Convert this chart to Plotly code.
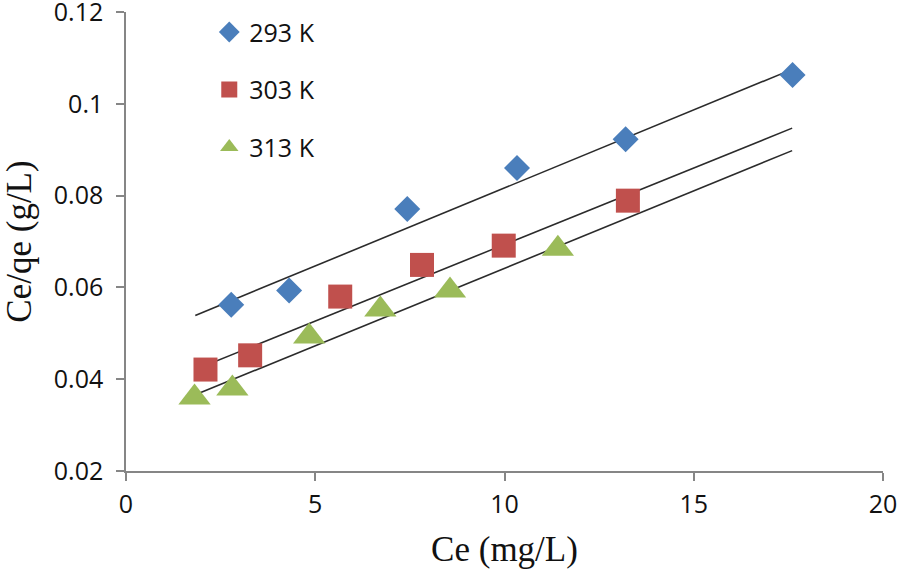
import plotly.graph_objects as go

# ---- data ----
ce_293 = [2.78, 4.31, 7.43, 10.33, 13.2, 17.61]
cq_293 = [0.0562, 0.0593, 0.0771, 0.0860, 0.0923, 0.1063]

ce_303 = [2.10, 3.28, 5.66, 7.82, 9.98, 13.26]
cq_303 = [0.0421, 0.0452, 0.0580, 0.0649, 0.0691, 0.0789]

ce_313 = [1.81, 2.81, 4.84, 6.72, 8.56, 11.41]
cq_313 = [0.0360, 0.0380, 0.0493, 0.0552, 0.0593, 0.0684]

# trend line end points
fit_x = [1.83, 17.6]
fit_293 = [0.0539, 0.1075]
fit_303 = [0.0421, 0.0947]
fit_313 = [0.0366, 0.0898]

series_names = ["293 K", "303 K", "313 K"]
x_ticks = [0, 5, 10, 15, 20]
y_ticks = [0.02, 0.04, 0.06, 0.08, 0.1, 0.12]
y_tick_text = ["0.02", "0.04", "0.06", "0.08", "0.1", "0.12"]

TICK_FONT = dict(family="Open Sans", size=25, color="#111111")
TITLE_FONT = dict(family="Liberation Serif", size=35, color="#111111")
AXIS_GRAY = "#868686"

fig = go.Figure()

for fy in (fit_293, fit_303, fit_313):
    fig.add_trace(go.Scatter(
        x=fit_x, y=fy, mode="lines",
        line=dict(color="#2b2b2b", width=1.6),
        showlegend=False, hoverinfo="skip"))

markers = [
    (ce_293, cq_293, "diamond", 20, "#4A7EBB"),
    (ce_303, cq_303, "square", 24, "#C0504D"),
    (ce_313, cq_313, "triangle-up", 28, "#9BBB59"),
]
for i, (xs, ys, sym, sz, col) in enumerate(markers):
    fig.add_trace(go.Scatter(
        x=xs, y=ys, mode="markers", name=series_names[i],
        legendgroup=series_names[i],
        marker=dict(symbol=sym, size=sz, color=col, line=dict(width=0))))

fig.update_layout(
    width=898, height=572,
    margin=dict(l=125.5, r=15, t=11.5, b=101.3, autoexpand=False),
    plot_bgcolor="white", paper_bgcolor="white",
    showlegend=True,
    legend=dict(
        x=0.11, y=1.006, xanchor="left", yanchor="top",
        font=TICK_FONT, bgcolor="rgba(0,0,0,0)",
        tracegroupgap=22, traceorder="grouped",
        itemsizing="trace"),
    xaxis=dict(
        range=[0, 20.00001], tickvals=x_ticks, ticktext=[str(v) for v in x_ticks],
        showgrid=False, zeroline=False, showline=True, linecolor=AXIS_GRAY,
        linewidth=1.5, ticks="outside", ticklen=8, tickcolor=AXIS_GRAY,
        tickwidth=1.5, tickfont=TICK_FONT, ticklabelstandoff=2, automargin=False,
        ticklabeloverflow="allow",
        title=dict(text="Ce (mg/L)", font=TITLE_FONT, standoff=18)),
    yaxis=dict(
        range=[0.02, 0.1200001], tickvals=y_ticks, ticktext=y_tick_text,
        showgrid=False, zeroline=False, showline=True, linecolor=AXIS_GRAY,
        linewidth=1.5, ticks="outside", ticklen=8, tickcolor=AXIS_GRAY,
        tickwidth=1.5, tickfont=TICK_FONT, ticklabelstandoff=8, automargin=False,
        ticklabeloverflow="allow",
        title=dict(text="Ce/qe (g/L)", font=TITLE_FONT, standoff=12)),
)

fig.write_html("out.html", config={"displayModeBar": False},
               post_script="document.body.style.margin='0px';")
